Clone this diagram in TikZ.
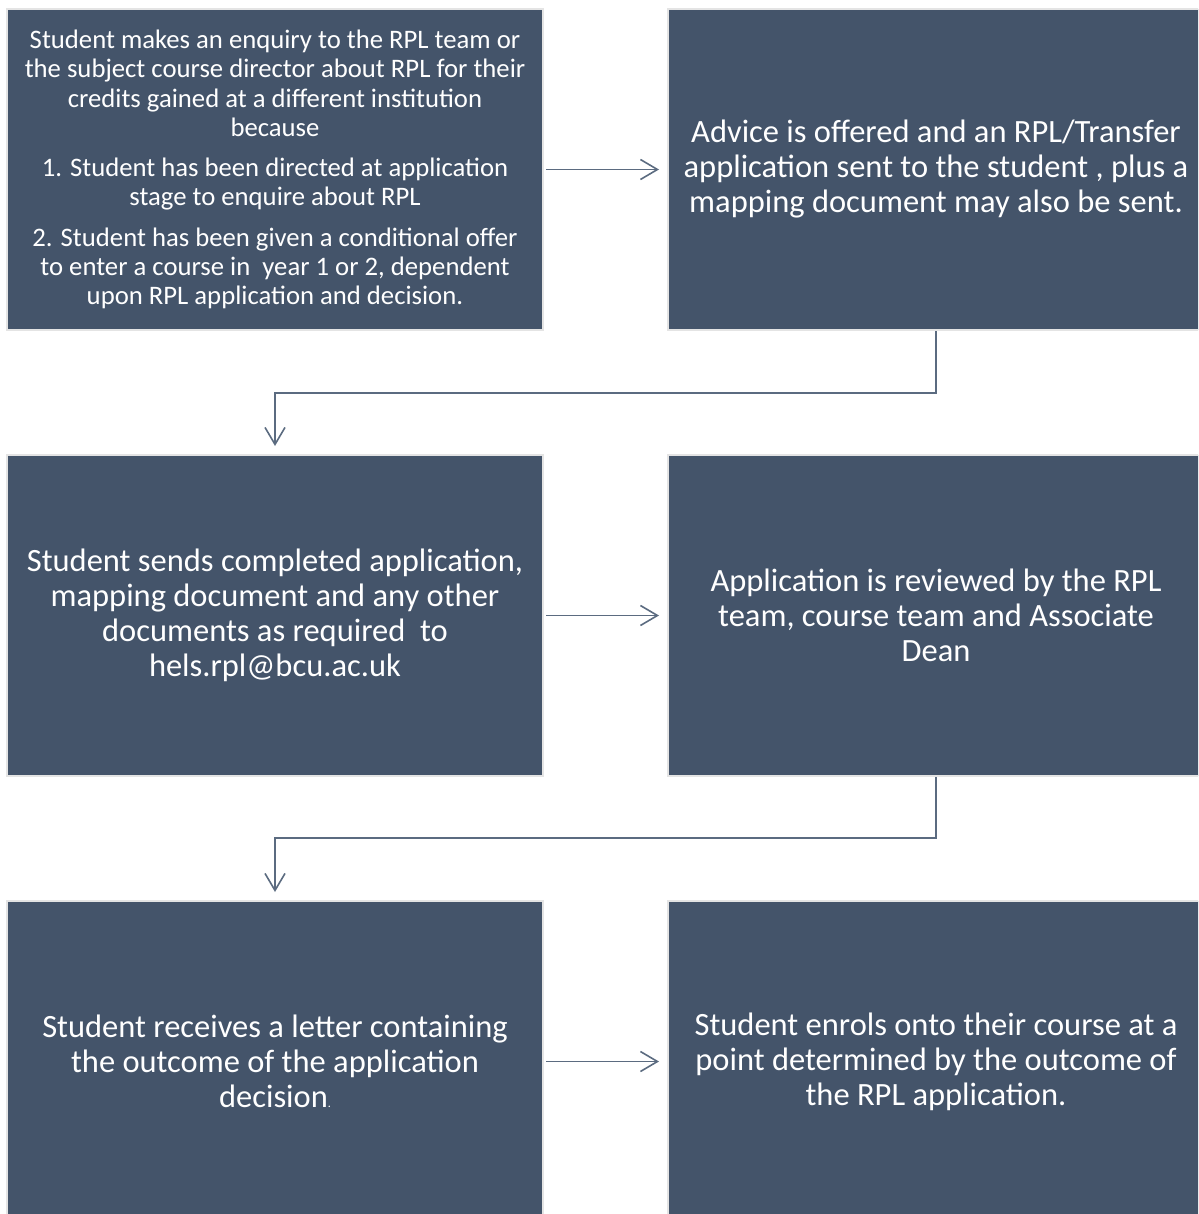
\documentclass[tikz,border=0pt]{standalone}
\usepackage{fontspec}
\setmainfont{Carlito}
\usetikzlibrary{arrows.meta}
\definecolor{boxfill}{HTML}{44546A}
\definecolor{boxedge}{HTML}{E4E4E4}
\definecolor{linecol}{HTML}{5B6B80}
\tikzset{
  stepbox/.style={draw=boxedge, line width=2pt, fill=boxfill, text=white,
    minimum width=536pt, minimum height=321pt, inner sep=0pt, align=center},
  bigtext/.style={font=\fontsize{32.5pt}{35pt}\selectfont},
  smalltext/.style={font=\fontsize{26.7pt}{29.3pt}\selectfont},
  conn/.style={draw=linecol, line width=1.6pt, -{Straight Barb[length=17pt,width=20pt,line width=1.6pt]}}
}
\begin{document}
\begin{tikzpicture}[x=1pt,y=-1pt]
\useasboundingbox (0,0) rectangle (1198,1214);
\begin{scope}
\clip (0,0) rectangle (1198,1214);
\node[stepbox, smalltext] (b1) at (275,169.5) {Student makes an enquiry to the RPL team or\\the subject course director about RPL for their\\credits gained at a different institution\\because\\[11pt]
1. Student has been directed at application\\stage to enquire about RPL\\[11pt]
2. Student has been given a conditional offer\\to enter a course in~ year 1 or 2, dependent\\upon RPL application and decision.};
\node[stepbox, bigtext] (b2) at (936,169.5) {Advice is offered and an RPL/Transfer\\application sent to the student , plus a\\mapping document may also be sent.};
\node[stepbox, bigtext] (b3) at (275,615.5) {Student sends completed application,\\mapping document and any other\\documents as required~ to\\hels.rpl@bcu.ac.uk};
\node[stepbox, bigtext] (b4) at (936,615.5) {Application is reviewed by the RPL\\team, course team and Associate\\Dean};
\node[stepbox, bigtext] (b5) at (275,1061.5) {Student receives a letter containing\\the outcome of the application\\decision{\fontsize{12pt}{14pt}\selectfont .}};
\node[stepbox, bigtext] (b6) at (936,1061.5) {Student enrols onto their course at a\\point determined by the outcome of\\the RPL application.};
\end{scope}
\coordinate (e1a) at (936,393);
\coordinate (e1b) at (275,393);
\coordinate (e2a) at (936,838);
\coordinate (e2b) at (275,838);
\draw[conn, shorten <=2pt, shorten >=8pt] (b1.east) -- (b2.west);
\draw[conn, shorten <=2pt, shorten >=8pt] (b3.east) -- (b4.west);
\draw[conn, shorten <=2pt, shorten >=8pt] (b5.east) -- (b6.west);
\draw[conn, shorten >=8pt] (b2.south) -- (e1a) -- (e1b) -- (b3.north);
\draw[conn, shorten >=8pt] (b4.south) -- (e2a) -- (e2b) -- (b5.north);
\end{tikzpicture}
\end{document}
